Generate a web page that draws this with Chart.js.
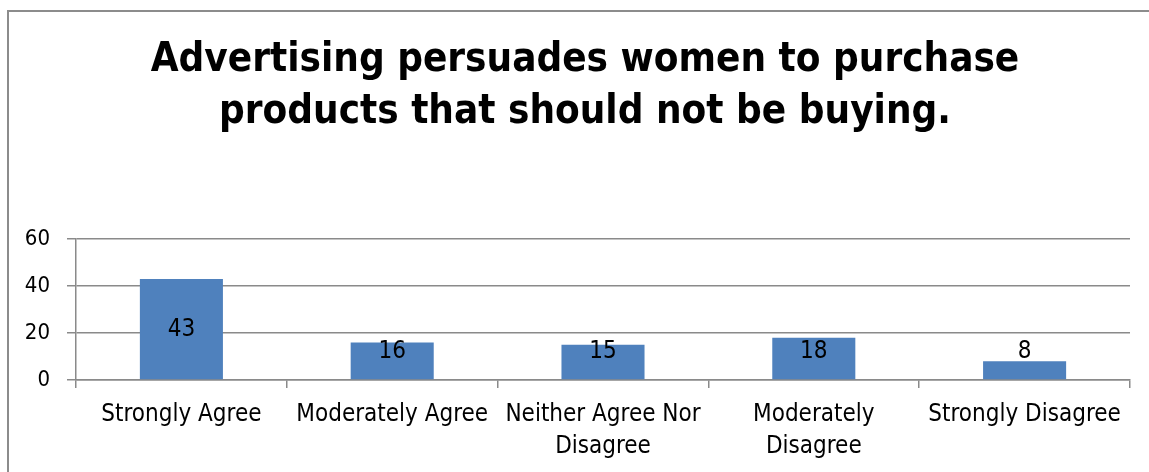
<!DOCTYPE html>
<html>
<head>
<meta charset="utf-8">
<script src="https://cdn.jsdelivr.net/npm/chart.js@4"></script>
<style>
  html, body { margin: 0; padding: 0; background: #fff; overflow: hidden; }
  canvas { display: block; }
</style>
</head>
<body>
<canvas id="c" width="1149" height="472"></canvas>
<script>
// Survey responses
const titleLines = ['Advertising persuades women to purchase', 'products that should not be buying.'];
const categories = [
  'Strongly Agree',
  'Moderately Agree',
  ['Neither Agree Nor', 'Disagree'],
  ['Moderately', 'Disagree'],
  'Strongly Disagree'
];
const responses = [43, 16, 15, 18, 8];
const yTicks = [0, 20, 40, 60];

const FONT = "'Liberation Sans Narrow', 'DejaVu Sans Condensed', 'Liberation Sans', sans-serif";
const GRID = '#8a8a8a';

// Chart border (left and top edges) and the two-line heading
const chartFrame = {
  id: 'chartFrame',
  beforeDraw(chart) {
    const ctx = chart.ctx;
    ctx.save();
    ctx.strokeStyle = '#8c8c8c';
    ctx.lineWidth = 2;
    ctx.beginPath();
    ctx.moveTo(8, chart.height + 5);
    ctx.lineTo(8, 11);
    ctx.lineTo(chart.width + 5, 11);
    ctx.stroke();

    ctx.fillStyle = '#000';
    ctx.font = 'bold 40px ' + FONT;
    ctx.textAlign = 'center';
    ctx.textBaseline = 'middle';
    titleLines.forEach((line, i) => ctx.fillText(line, 585, 61 + i * 52));
    ctx.restore();
  }
};

// Value labels: centred in each bar, lifted for short bars
const valueLabels = {
  id: 'valueLabels',
  afterDatasetsDraw(chart) {
    const ctx = chart.ctx;
    const y = chart.scales.y;
    const meta = chart.getDatasetMeta(0);
    ctx.save();
    ctx.font = '24px ' + FONT;
    ctx.fillStyle = '#000';
    ctx.textAlign = 'center';
    ctx.textBaseline = 'middle';
    meta.data.forEach((bar, i) => {
      const v = chart.data.datasets[0].data[i];
      const py = y.getPixelForValue(Math.max(v, 24) / 2);
      ctx.fillText(String(v), bar.x, py);
    });
    ctx.restore();
  }
};

new Chart(document.getElementById('c'), {
  type: 'bar',
  data: {
    labels: categories,
    datasets: [{
      data: responses,
      backgroundColor: '#4f81bd',
      borderWidth: 0,
      barPercentage: 0.394,
      categoryPercentage: 1
    }]
  },
  options: {
    responsive: false,
    animation: false,
    layout: { padding: { left: 0, right: 19, top: 239, bottom: 0 } },
    plugins: {
      legend: { display: false },
      tooltip: { enabled: false },
      title: { display: false }
    },
    scales: {
      x: {
        grid: { display: true, drawOnChartArea: false, drawTicks: true, tickLength: 8,
                color: GRID, lineWidth: 1.5, offset: true },
        border: { display: true, color: GRID, width: 1.5 },
        ticks: { color: '#000', font: { family: FONT, size: 24, lineHeight: 1.33 },
                 padding: 11, maxRotation: 0, minRotation: 0, autoSkip: false },
        afterFit(s) { s.height = 92; }
      },
      y: {
        min: 0, max: 60,
        afterBuildTicks(s) { s.ticks = yTicks.map(v => ({ value: v })); },
        grid: { color: GRID, lineWidth: 1.5, tickLength: 9 },
        border: { display: true, color: GRID, width: 1.5 },
        ticks: { color: '#000', font: { family: FONT, size: 22 }, padding: 17 },
        afterFit(s) { s.width = 76; }
      }
    }
  },
  plugins: [chartFrame, valueLabels]
});
</script>
</body>
</html>
